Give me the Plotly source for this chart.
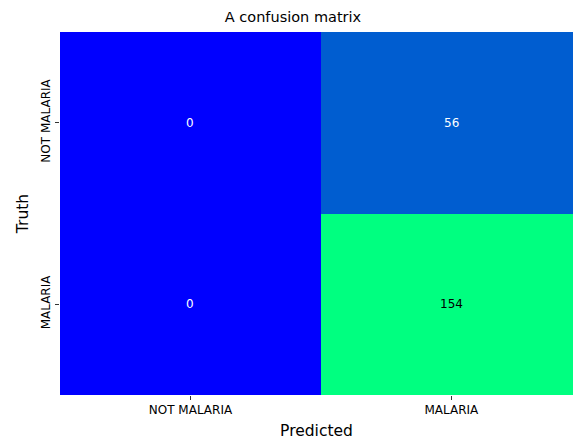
import plotly.graph_objects as go

truth_labels = ["NOT MALARIA", "MALARIA"]
pred_labels = ["NOT MALARIA", "MALARIA"]
counts = [[0, 56], [0, 154]]

winter = [[0.0, "#0000ff"], [0.5, "#0080bf"], [1.0, "#00ff80"]]

fig = go.Figure(go.Heatmap(
    z=counts, x=[0, 1], y=[0, 1],
    colorscale=winter, zmin=0, zmax=154, showscale=False,
    xgap=0, ygap=0, hoverinfo="skip"))

for i, row in enumerate(counts):
    for j, v in enumerate(row):
        fig.add_annotation(x=j, y=i, text=str(v), showarrow=False,
                           font=dict(family="DejaVu Sans", size=12,
                                     color="black" if v > 77 else "white"))

fig.update_layout(
    width=573, height=442,
    margin=dict(l=60, r=0, t=32, b=47),
    plot_bgcolor="white", paper_bgcolor="white",
    title=dict(text="A confusion matrix", x=293/573, xanchor="center", y=1 - 17/442, yanchor="middle",
               font=dict(family="DejaVu Sans", size=14.5, color="black")),
    font=dict(family="DejaVu Sans", color="black"),
)
fig.update_xaxes(range=[-0.5, 1.466], tickvals=[0, 1], ticktext=pred_labels,
                 ticks="outside", ticklen=4, tickcolor="#333", showgrid=False, zeroline=False,
                 tickfont=dict(size=12),
                 title=dict(text="Predicted", font=dict(size=15.5), standoff=8))
fig.update_yaxes(range=[1.5, -0.5], tickvals=[0, 1], ticktext=truth_labels,
                 ticks="outside", ticklen=4, tickcolor="#333", showgrid=False, zeroline=False,
                 tickangle=-90, tickfont=dict(size=12),
                 title=dict(text="Truth", font=dict(size=15.5), standoff=6))

fig.write_html("out.html")
